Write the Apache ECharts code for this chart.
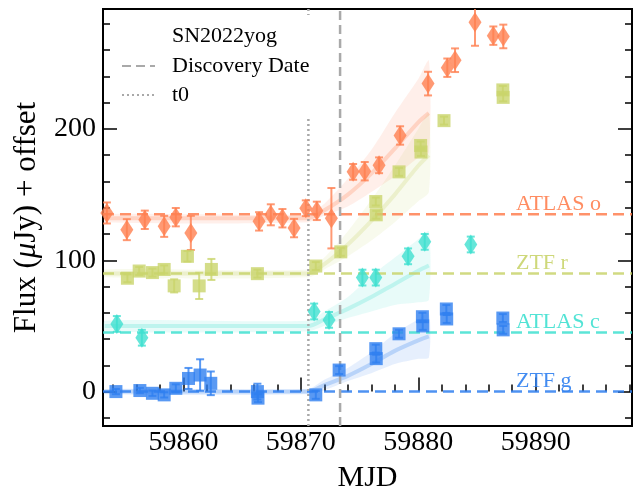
<!DOCTYPE html>
<html><head><meta charset="utf-8">
<script src="https://cdn.jsdelivr.net/npm/echarts@6/dist/echarts.min.js"></script>
<style>html,body{margin:0;padding:0;background:#fff}#c{width:643px;height:498px}</style>
</head><body><div id="c"></div>
<script>
// ---------- axes ----------
const xMin = 59853.15, xMax = 59898.2;
const yMin = -26.2, yMax = 291.3;
const xMajorTicks = [59860, 59870, 59880, 59890];
const xMinorTicks = [59854, 59856, 59858, 59862, 59864, 59866, 59868, 59872, 59874, 59876, 59878, 59882, 59884, 59886, 59888, 59892, 59894, 59896, 59898];
const yMajorTicks = [0, 100, 200];
const yMinorTicks = [-20, 20, 40, 60, 80, 120, 140, 160, 180, 220, 240, 260, 280];

// ---------- reference lines ----------
const discoveryMJD = 59873.34;
const t0MJD = 59870.64;

// ---------- bands ----------
const bandNames = ['ZTF g', 'ATLAS c', 'ZTF r', 'ATLAS o'];
const bandOffsets = [0, 45, 90, 135];
const bandLabelX = 59888.32;

// ZTF g
const ztfG_mjd  = [59854.25, 59856.29, 59857.36, 59858.36, 59859.35, 59860.43, 59861.42, 59862.33, 59866.30, 59866.35, 59871.27, 59873.26, 59876.38, 59876.42, 59878.36, 59880.35, 59880.38, 59882.39, 59882.42, 59887.20, 59887.23];
const ztfG_flux = [0, 0.8, -1.3, -2.5, 2.5, 10, 12.6, 6.3, 0, -5, -2.5, 16.4, 32.7, 25.1, 44, 57, 50, 62.9, 55.3, 56, 47];
const ztfG_err  = [2, 2, 2, 2, 3, 8, 12, 9, 6, 3, 3, 3, 3, 3, 3, 3, 3, 3, 3, 3, 3];

// ATLAS c
const atlasC_mjd  = [59854.33, 59856.46, 59871.13, 59872.40, 59875.24, 59876.38, 59879.13, 59880.55, 59884.47];
const atlasC_flux = [51.5, 41, 61, 54.6, 86.8, 86.8, 103, 114, 112];
const atlasC_err  = [6, 6, 6, 6, 6, 6, 6, 6, 6];

// ZTF r
const ztfR_mjd  = [59855.23, 59856.23, 59857.36, 59858.36, 59859.21, 59860.34, 59861.34, 59862.38, 59866.30, 59871.27, 59873.40, 59876.38, 59876.42, 59878.36, 59880.20, 59880.23, 59882.19, 59887.20, 59887.23];
const ztfR_flux = [86.3, 91.8, 90.6, 93, 80.5, 103, 80.5, 93, 89.8, 95.6, 106.4, 144.7, 134.6, 167.3, 187.4, 182.4, 206.3, 229.7, 224];
const ztfR_err  = [3, 3, 3, 3, 5, 4, 10, 8, 3, 3, 3, 3, 3, 3, 3, 3, 3, 3, 3];

// ATLAS o
const atlasO_mjd  = [59853.48, 59855.18, 59856.71, 59858.36, 59859.35, 59860.63, 59866.44, 59867.44, 59868.43, 59869.42, 59870.42, 59871.36, 59872.60, 59874.45, 59875.44, 59876.66, 59878.45, 59880.83, 59882.47, 59883.13, 59884.83, 59886.39, 59887.24];
const atlasO_flux = [136, 123.3, 130.8, 125.8, 132.8, 120.8, 129.6, 134.6, 132, 124.5, 139.6, 137.6, 132, 167.3, 167.8, 172.3, 195, 234.5, 246.6, 252.3, 281.3, 271, 270.4];
const atlasO_err  = [8, 8, 7, 8, 7, 13, 7, 8, 7, 7, 6, 7, 23, 6, 7, 6, 7, 9, 7, 9, 18, 7, 9];

// model fans: x grid, lower, middle, upper
const fanX = [59853.3, 59870.6, 59872, 59874, 59876, 59878, 59880, 59880.9];
const fanG_lo  = [-2, -2, 1, 8, 14, 21, 25, 26];
const fanG_mid = [0, 0, 5, 12, 21, 31, 39, 42];
const fanG_hi  = [2, 2, 9, 18, 30, 44, 55, 60];
const fanC_lo  = [46, 46, 50, 56, 61, 66, 68, 70];
const fanC_mid = [50, 50, 55, 63, 72, 82, 92, 96];
const fanC_hi  = [54, 54, 61, 72, 88, 102, 116, 122];
const fanR_lo  = [87, 87, 93, 103, 115, 129, 145, 152];
const fanR_mid = [90, 90, 97, 112, 130, 150, 172, 180];
const fanR_hi  = [93, 93, 102, 122, 146, 172, 200, 212];
const fanO_lo  = [129, 129, 134, 141, 152, 164, 178, 182];
const fanO_mid = [132, 132, 138, 150, 166, 185, 205, 212];
const fanO_hi  = [135, 135, 143, 162, 184, 212, 238, 252];

// ---------- styling ----------
const FONT = "'Liberation Serif', 'Times New Roman', serif";
const colG = '#2f7ff0', colC = '#3fe0d0', colR = '#c9d46c', colO = '#ff7f50';
const GRAY = '#a9a9a9';

function zip3(a, b, c) { return a.map((v, i) => [v, b[i], c[i]]); }

function errRender(color) {
  return function (params, api) {
    const x = api.value(0), y = api.value(1), e = api.value(2);
    const t = api.coord([x, y + e]), b = api.coord([x, y - e]);
    const cap = 4, st = { stroke: color, lineWidth: 2, opacity: 0.8 };
    return { type: 'group', children: [
      { type: 'line', shape: { x1: t[0], y1: t[1], x2: b[0], y2: b[1] }, style: st },
      { type: 'line', shape: { x1: t[0] - cap, y1: t[1], x2: t[0] + cap, y2: t[1] }, style: st },
      { type: 'line', shape: { x1: b[0] - cap, y1: b[1], x2: b[0] + cap, y2: b[1] }, style: st }
    ]};
  };
}
function fanRender(lo, hi, color) {
  return function (params, api) {
    const pts = [];
    for (let i = 0; i < fanX.length; i++) pts.push(api.coord([fanX[i], hi[i]]));
    for (let i = fanX.length - 1; i >= 0; i--) pts.push(api.coord([fanX[i], lo[i]]));
    return { type: 'polygon', shape: { points: pts, smooth: 0.25 }, style: { fill: color, opacity: 0.12 } };
  };
}

const bands = [
  { name: 'ZTF g', col: colG, sym: 'rect', size: [13, 13], mjd: ztfG_mjd, flux: ztfG_flux, err: ztfG_err, lo: fanG_lo, mid: fanG_mid, hi: fanG_hi },
  { name: 'ATLAS c', col: colC, sym: 'diamond', size: [13, 20], mjd: atlasC_mjd, flux: atlasC_flux, err: atlasC_err, lo: fanC_lo, mid: fanC_mid, hi: fanC_hi },
  { name: 'ZTF r', col: colR, sym: 'rect', size: [13, 13], mjd: ztfR_mjd, flux: ztfR_flux, err: ztfR_err, lo: fanR_lo, mid: fanR_mid, hi: fanR_hi },
  { name: 'ATLAS o', col: colO, sym: 'diamond', size: [13, 20], mjd: atlasO_mjd, flux: atlasO_flux, err: atlasO_err, lo: fanO_lo, mid: fanO_mid, hi: fanO_hi }
];

const series = [];
bands.forEach((b, k) => {
  series.push({ type: 'custom', name: b.name + ' fan', renderItem: fanRender(b.lo, b.hi, b.col), data: [[fanX[0], b.mid[0]]], clip: true, z: 1, silent: true });
  series.push({ type: 'line', name: b.name + ' model', data: fanX.map((x, i) => [x, b.mid[i]]), smooth: 0.3, showSymbol: false,
    lineStyle: { color: b.col, width: 4, opacity: 0.25 }, z: 1, silent: true });
  series.push({ type: 'line', name: b.name + ' offset', data: [[xMin, bandOffsets[k]], [xMax, bandOffsets[k]]], showSymbol: false,
    lineStyle: { color: b.col, width: 2.5, type: [11, 6], opacity: 0.85 }, z: 2, silent: true });
  series.push({ type: 'custom', name: b.name + ' err', renderItem: errRender(b.col), data: zip3(b.mjd, b.flux, b.err), clip: true, z: 3 });
  series.push({ type: 'scatter', name: b.name, data: b.mjd.map((x, i) => [x, b.flux[i]]), symbol: b.sym, symbolSize: b.size,
    itemStyle: { color: b.col, opacity: 0.8 }, clip: true, z: 4 });
  series.push({ type: 'scatter', name: b.name + ' label', data: [[bandLabelX, bandOffsets[k]]], symbolSize: 0, silent: true, z: 5,
    label: { show: true, position: [0, 0], align: 'left', verticalAlign: 'bottom', offset: [0, 1], formatter: b.name,
      fontFamily: FONT, fontSize: 22, color: b.col, opacity: 0.9 } });
});
const hiddenSymbol = { color: 'rgba(0,0,0,0)', borderColor: 'rgba(0,0,0,0)', borderWidth: 0, opacity: 0 };
series.push({ type: 'line', name: 'Discovery Date', data: [[discoveryMJD, yMin], [discoveryMJD, yMax]], showSymbol: false,
  itemStyle: hiddenSymbol, lineStyle: { color: GRAY, width: 2.5, type: [9, 5] }, z: 2 });
series.push({ type: 'line', name: 't0', data: [[t0MJD, yMin], [t0MJD, yMax]], showSymbol: false,
  itemStyle: hiddenSymbol, lineStyle: { color: GRAY, width: 2.5, type: [2, 3] }, z: 2 });

const tickStyle = { color: '#000', width: 1.5 };
const option = {
  animation: false,
  backgroundColor: '#fff',
  title: { text: 'SN2022yog', left: 172, top: 25, padding: 0, z: 20,
    textStyle: { fontFamily: FONT, fontSize: 22, fontWeight: 'normal', color: '#000' } },
  legend: {
    data: ['Discovery Date', 't0'], orient: 'vertical', left: 115, top: 15, padding: [40, 8, 11, 6],
    itemWidth: 33, itemHeight: 14, itemGap: 7, backgroundColor: '#fff', z: 10,
    itemStyle: { opacity: 0, borderWidth: 0 },
    textStyle: { fontFamily: FONT, fontSize: 22, color: '#000', padding: [0, 0, 0, 12] }
  },
  grid: { left: 103, right: 11, top: 9, bottom: 68, show: true, borderColor: '#000', borderWidth: 2, backgroundColor: 'transparent' },
  xAxis: [
    { type: 'value', min: xMin, max: xMax, name: 'MJD', nameLocation: 'middle', nameGap: 37,
      nameTextStyle: { fontFamily: FONT, fontSize: 30, color: '#000' },
      axisLine: { show: false }, splitLine: { show: false },
      axisTick: { inside: true, length: 14, lineStyle: tickStyle, customValues: xMajorTicks },
      axisLabel: { customValues: xMajorTicks, fontFamily: FONT, fontSize: 28, color: '#000', margin: 3, formatter: v => String(v) } },
    { type: 'value', min: xMin, max: xMax, position: 'bottom', axisLine: { show: false }, splitLine: { show: false },
      axisTick: { inside: true, length: 7, lineStyle: tickStyle, customValues: xMinorTicks },
      axisLabel: { show: false } }
  ],
  yAxis: [
    { type: 'value', min: yMin, max: yMax, position: 'left',
      name: 'Flux ({i|μ}Jy) + offset', nameLocation: 'middle', nameGap: 61, nameRotate: 90,
      nameTextStyle: { fontFamily: FONT, fontSize: 31, color: '#000', rich: { i: { fontFamily: FONT, fontSize: 31, fontStyle: 'italic', color: '#000' } } },
      axisLine: { show: false }, splitLine: { show: false },
      axisTick: { inside: true, length: 14, lineStyle: tickStyle, customValues: yMajorTicks },
      axisLabel: { customValues: yMajorTicks, fontFamily: FONT, fontSize: 28, color: '#000', margin: 7 } },
    { type: 'value', min: yMin, max: yMax, position: 'left', axisLine: { show: false }, splitLine: { show: false },
      axisTick: { inside: true, length: 7, lineStyle: tickStyle, customValues: yMinorTicks }, axisLabel: { show: false } },
    { type: 'value', min: yMin, max: yMax, position: 'right', axisLine: { show: false }, splitLine: { show: false },
      axisTick: { inside: true, length: 14, lineStyle: tickStyle, customValues: yMajorTicks }, axisLabel: { show: false } },
    { type: 'value', min: yMin, max: yMax, position: 'right', axisLine: { show: false }, splitLine: { show: false },
      axisTick: { inside: true, length: 7, lineStyle: tickStyle, customValues: yMinorTicks }, axisLabel: { show: false } }
  ],
  series: series
};
const chart = echarts.init(document.getElementById('c'), null, { renderer: 'canvas' });
chart.setOption(option);
</script></body></html>
